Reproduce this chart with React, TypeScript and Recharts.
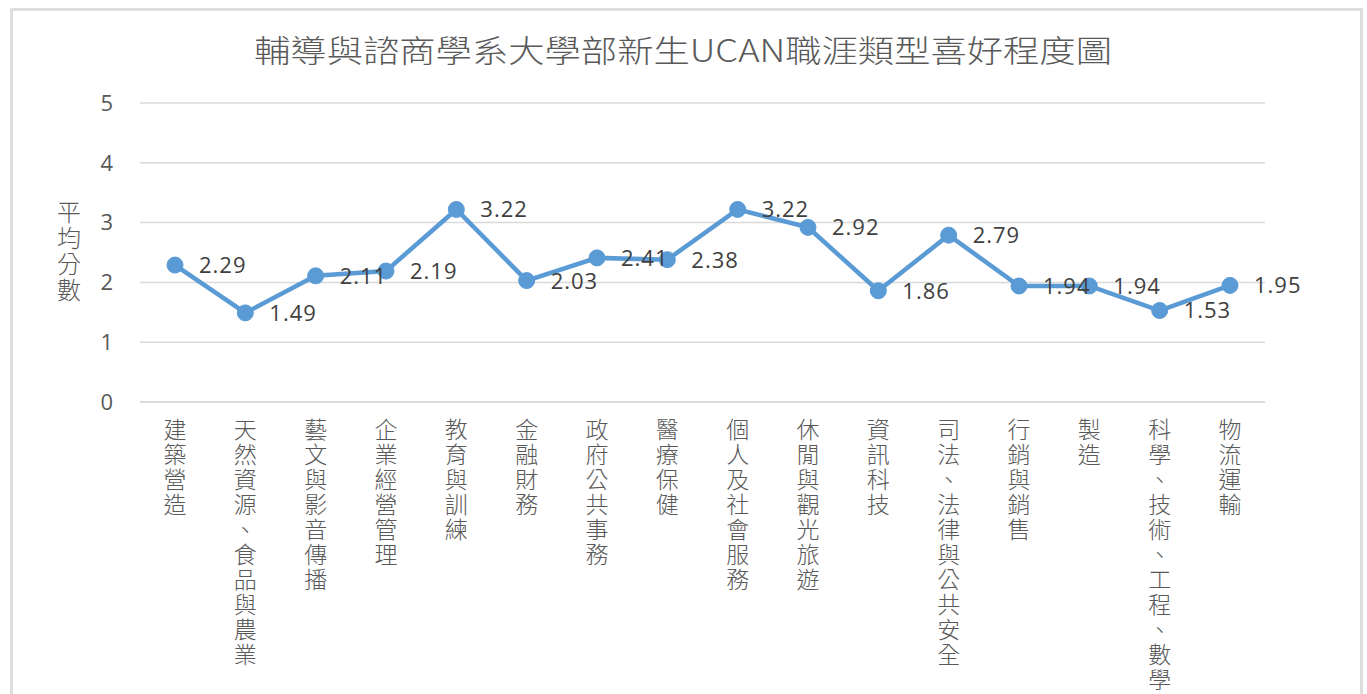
import { LineChart, Line, XAxis, YAxis, CartesianGrid, LabelList } from 'recharts'

const categories = [
  '建築營造',
  '天然資源、食品與農業',
  '藝文與影音傳播',
  '企業經營管理',
  '教育與訓練',
  '金融財務',
  '政府公共事務',
  '醫療保健',
  '個人及社會服務',
  '休閒與觀光旅遊',
  '資訊科技',
  '司法、法律與公共安全',
  '行銷與銷售',
  '製造',
  '科學、技術、工程、數學',
  '物流運輸',
]

const scores = [2.29, 1.49, 2.11, 2.19, 3.22, 2.03, 2.41, 2.38, 3.22, 2.92, 1.86, 2.79, 1.94, 1.94, 1.53, 1.95]

const yTicks = [0, 1, 2, 3, 4, 5]

const title = '輔導與諮商學系大學部新生UCAN職涯類型喜好程度圖'
const yLabel = '平均分數'

const data = categories.map((name, i) => ({ name, score: scores[i] }))

const CJK = '"Noto Sans CJK TC", "Noto Sans", sans-serif'
const BLUE = '#5b9bd5'

function VerticalTick(props: any) {
  const { x, payload } = props
  const chars = Array.from(String(payload.value))
  return (
    <text x={x} y={0} textAnchor="middle" fontFamily={CJK} fontSize={23} fontWeight={300} fill="#595959">
      {chars.map((c, i) => (
        <tspan key={i} x={x} y={438 + i * 25}>
          {c}
        </tspan>
      ))}
    </text>
  )
}

function ValueLabel(props: any) {
  const { x, y, value } = props
  return (
    <text
      x={x + 24}
      y={y}
      dy="0.36em"
      textAnchor="start"
      fontFamily='"Open Sans", sans-serif'
      fontSize={22}
      letterSpacing={1}
      fill="#404040"
    >
      {Number(value).toFixed(2)}
    </text>
  )
}

function AxisTitle() {
  return (
    <text x={69} y={0} textAnchor="middle" fontFamily={CJK} fontSize={24} fontWeight={300} fill="#595959">
      {Array.from(yLabel).map((c, i) => (
        <tspan key={i} x={69} y={221 + i * 26}>
          {c}
        </tspan>
      ))}
    </text>
  )
}

export default function App() {
  return (
    <div style={{ position: 'absolute', left: 0, top: 0, width: 1367, height: 694, background: '#fff', overflow: 'hidden' }}>
      <div
        style={{
          position: 'absolute',
          left: 10,
          top: 8,
          width: 1347,
          height: 700,
          border: '3px solid #dedede',
        }}
      />
      <LineChart width={1367} height={694} data={data} margin={{ top: 103, right: 102, bottom: 262, left: 0 }}>
        <text
          x={683}
          y={62}
          textAnchor="middle"
          fontFamily={CJK}
          fontSize={31}
          fontWeight={300}
          fill="#595959"
          textLength={858}
          lengthAdjust="spacingAndGlyphs"
        >
          {title}
        </text>
        <CartesianGrid vertical={false} stroke="#d9d9d9" strokeWidth={1.5} />
        <XAxis
          dataKey="name"
          interval={0}
          height={30}
          padding={{ left: 35, right: 35 }}
          tick={<VerticalTick />}
          tickLine={false}
          axisLine={{ stroke: '#d9d9d9', strokeWidth: 1.5 }}
        />
        <YAxis
          width={140}
          domain={[0, 5]}
          ticks={yTicks}
          tickLine={false}
          axisLine={false}
          tickMargin={21}
          tick={{ fill: '#595959', fontSize: 22, fontFamily: '"Open Sans", sans-serif' }}
          label={<AxisTitle />}
        />
        <Line
          type="linear"
          dataKey="score"
          stroke={BLUE}
          strokeWidth={4.5}
          dot={{ r: 8, fill: BLUE, stroke: BLUE, strokeWidth: 1 }}
          isAnimationActive={false}
        >
          <LabelList dataKey="score" content={<ValueLabel />} />
        </Line>
      </LineChart>
    </div>
  )
}
